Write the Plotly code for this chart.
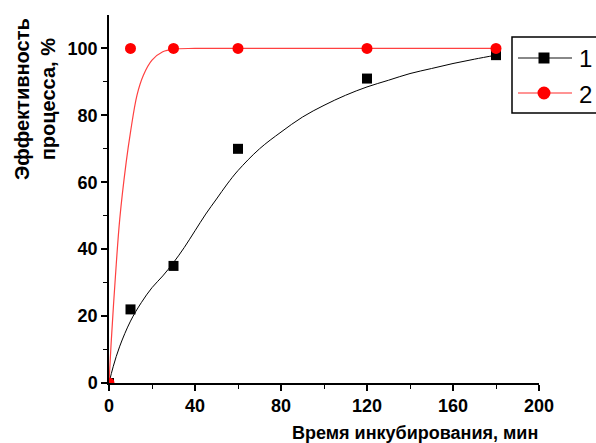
import plotly.graph_objects as go

# measured points
t_pts = [0, 10, 30, 60, 120, 180]
s1_pts = [0, 22, 35, 70, 91, 98]
s2_pts = [0, 100, 100, 100, 100, 100]

# fitted curves
c1_x = [0, 2, 5, 10, 15, 20, 25, 30, 35, 40, 45, 50, 55, 60, 70, 80, 90, 100, 110, 120, 130, 140, 150, 160, 170, 180]
c1_y = [0, 5, 11, 18.5, 24, 28.5, 32, 36, 40.5, 45.5, 50.5, 55, 59.5, 63.5, 70, 75, 79.5, 83, 86, 88.5, 90.5, 92.5, 94, 95.5, 96.8, 98]
c2_x = [0, 1, 3, 5, 8, 10, 13, 16, 20, 25, 30, 40, 60, 120, 180]
c2_y = [0, 12, 32, 49, 66, 75, 86, 92, 96.5, 99, 99.8, 100, 100, 100, 100]

legend_names = ["1", "2"]
x_ticks = [0, 40, 80, 120, 160, 200]
y_ticks = [0, 20, 40, 60, 80, 100]
x_title = "Время инкубирования, мин"
y_title = "Эффективность<br>процесса, %"

FONT = "Liberation Sans, Arial, sans-serif"

# plot-area geometry (pixels) for paper-coordinate placement of decorations
L, R, T, B = 109, 57, 15, 60
W, H = 596, 443
PW, PH = W - L - R, H - T - B


def px(x):
    return (x - L) / PW


def py(y):
    return (H - B - y) / PH


fig = go.Figure()
fig.add_trace(go.Scatter(x=c1_x, y=c1_y, mode="lines", line=dict(color="black", width=1, shape="spline"),
                         showlegend=False))
fig.add_trace(go.Scatter(x=c2_x, y=c2_y, mode="lines", line=dict(color="#ff4040", width=1.2, shape="spline"),
                         showlegend=False))
fig.add_trace(go.Scatter(x=t_pts, y=s1_pts, mode="markers", marker=dict(symbol="square", size=10, color="black"),
                         showlegend=False))
fig.add_trace(go.Scatter(x=t_pts, y=s2_pts, mode="markers", marker=dict(symbol="circle", size=11, color="red"),
                         showlegend=False))

# custom legend (box, sample lines, symbols, labels)
shapes = [
    dict(type="rect", xref="paper", yref="paper", x0=px(512), x1=px(605), y0=py(113), y1=py(37),
         line=dict(color="black", width=1.5), fillcolor="white", layer="above"),
]
entries = [(58, "#606060", "black", "rect", 11), (93, "#ff7070", "red", "circle", 13)]
annotations = []
for (yc, lc, mc, sym, sz), name in zip(entries, legend_names):
    shapes.append(dict(type="line", xref="paper", yref="paper", x0=px(518), x1=px(572), y0=py(yc), y1=py(yc),
                       line=dict(color=lc, width=1.5), layer="above"))
    shapes.append(dict(type=sym, xref="paper", yref="paper", x0=px(544 - sz / 2), x1=px(544 + sz / 2),
                       y0=py(yc + sz / 2), y1=py(yc - sz / 2), line=dict(width=0), fillcolor=mc, layer="above"))
    annotations.append(dict(text=name, xref="paper", yref="paper", x=px(577), y=py(yc + 1), xanchor="left",
                            yanchor="middle", showarrow=False, font=dict(family=FONT, size=24, color="black")))

annotations += [
    dict(text=f"<b>{x_title}</b>", xref="paper", yref="paper", x=px(415), y=py(433),
         xanchor="center", yanchor="middle", showarrow=False, font=dict(family=FONT, size=18, color="black")),
    dict(text=f"<b>{y_title}</b>", xref="paper", yref="paper", x=px(35), y=py(99),
         xanchor="center", yanchor="middle", textangle=-90, showarrow=False,
         font=dict(family=FONT, size=20, color="black")),
]

tickfont = dict(family=FONT, size=18, color="black")
fig.update_layout(
    width=W, height=H,
    margin=dict(l=L, r=R, t=T, b=B),
    plot_bgcolor="white", paper_bgcolor="white",
    font=dict(family=FONT, color="black"),
    showlegend=False,
    xaxis=dict(range=[0, 200], tickvals=x_ticks, ticktext=[f"<b>{v}</b>" for v in x_ticks],
               showline=True, linecolor="black", linewidth=1.5,
               ticks="outside", ticklen=6, tickwidth=1.5, tickcolor="black",
               minor=dict(dtick=20, ticks="outside", ticklen=4, tickwidth=1.2, tickcolor="black"),
               showgrid=False, zeroline=False, automargin=False, tickfont=tickfont),
    yaxis=dict(range=[0, 110], tickvals=y_ticks, ticktext=[f"<b>{v}</b>" for v in y_ticks],
               showline=True, linecolor="black", linewidth=1.5,
               ticks="outside", ticklen=6, tickwidth=1.5, tickcolor="black",
               minor=dict(tickvals=[10, 30, 50, 70, 90], ticks="outside", ticklen=4, tickwidth=1.2, tickcolor="black"),
               showgrid=False, zeroline=False, automargin=False, tickfont=tickfont),
    shapes=shapes,
    annotations=annotations,
)
fig.write_html("out.html", config={"displayModeBar": False},
               post_script="document.body.style.margin='0';document.body.style.overflow='hidden';")
